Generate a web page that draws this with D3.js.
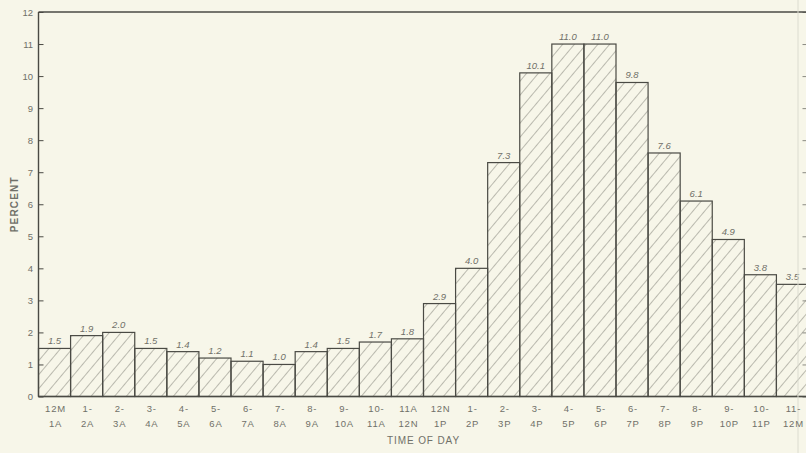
<!DOCTYPE html>
<html>
<head>
<meta charset="utf-8">
<script src="https://cdn.jsdelivr.net/npm/d3@7"></script>
<style>
  html, body { margin: 0; padding: 0; background: #f7f6e9; }
  svg { display: block; }
  text { font-family: "Liberation Sans", "DejaVu Sans", sans-serif; fill: #707068; }
</style>
</head>
<body>
<svg id="chart" width="806" height="453"></svg>
<script>
// Hourly share of traffic, by time of day
const hourStart = ["12M","1-","2-","3-","4-","5-","6-","7-","8-","9-","10-","11A",
                   "12N","1-","2-","3-","4-","5-","6-","7-","8-","9-","10-","11-"];
const hourEnd   = ["1A","2A","3A","4A","5A","6A","7A","8A","9A","10A","11A","12N",
                   "1P","2P","3P","4P","5P","6P","7P","8P","9P","10P","11P","12M"];
const percent   = [1.5,1.9,2.0,1.5,1.4,1.2,1.1,1.0,1.4,1.5,1.7,1.8,
                   2.9,4.0,7.3,10.1,11.0,11.0,9.8,7.6,6.1,4.9,3.8,3.5];
const yTicks    = [0,1,2,3,4,5,6,7,8,9,10,11,12];

const svg = d3.select("#chart");
const plotL = 38.5, plotR = 808.5, plotT = 12, plotB = 396.5;
const ink = "#4a4a44";

const x = d3.scaleBand().domain(d3.range(percent.length)).range([plotL, plotR]).padding(0);
const y = d3.scaleLinear().domain([0, 12]).range([plotB, plotT]);

// diagonal hatching fill
const defs = svg.append("defs");
const pat = defs.append("pattern")
  .attr("id", "hatch").attr("patternUnits", "userSpaceOnUse")
  .attr("width", 9).attr("height", 9)
  .attr("patternTransform", "rotate(40)");
pat.append("line").attr("x1", 0).attr("y1", 0).attr("x2", 0).attr("y2", 9)
  .attr("stroke", "#6e6e66").attr("stroke-width", 0.9);

// bars
svg.append("g").selectAll("rect").data(percent).join("rect")
  .attr("x", (d, i) => x(i))
  .attr("y", d => y(d))
  .attr("width", x.bandwidth())
  .attr("height", d => y(0) - y(d))
  .attr("fill", "url(#hatch)")
  .attr("stroke", ink).attr("stroke-width", 1.2);

// value labels
svg.append("g").selectAll("text").data(percent).join("text")
  .attr("x", (d, i) => x(i) + x.bandwidth() / 2)
  .attr("y", d => y(d) - 4)
  .attr("text-anchor", "middle")
  .attr("font-size", 9.5).attr("font-style", "italic")
  .text(d => d.toFixed(1));

// left axis, ticks pointing inward
const yAxisL = svg.append("g").attr("transform", `translate(${plotL},0)`)
  .call(d3.axisRight(y).tickValues(yTicks).tickSize(5).tickFormat(""));
yAxisL.select(".domain").remove();
yAxisL.selectAll("line").attr("stroke", ink);

// right axis, ticks pointing inward
const yAxisR = svg.append("g").attr("transform", `translate(${plotR},0)`)
  .call(d3.axisLeft(y).tickValues(yTicks).tickSize(6).tickFormat(""));
yAxisR.select(".domain").remove();
yAxisR.selectAll("line").attr("stroke", "#8a8a82");

// tick labels
svg.append("g").selectAll("text").data(yTicks).join("text")
  .attr("x", 33).attr("y", d => y(d) + 3.5)
  .attr("text-anchor", "end").attr("font-size", 9.5)
  .text(d => d);

// frame
svg.append("line").attr("x1", plotL).attr("x2", plotL).attr("y1", plotT).attr("y2", plotB)
  .attr("stroke", ink).attr("stroke-width", 1.4);
svg.append("line").attr("x1", plotL).attr("x2", plotR).attr("y1", plotT).attr("y2", plotT)
  .attr("stroke", ink).attr("stroke-width", 1.4);
svg.append("line").attr("x1", plotL).attr("x2", plotR).attr("y1", plotB).attr("y2", plotB)
  .attr("stroke", ink).attr("stroke-width", 1.6);
// faint page edge line
svg.append("line").attr("x1", 798).attr("x2", 798).attr("y1", 0).attr("y2", 453)
  .attr("stroke", "#dcdcd0").attr("stroke-width", 1);

// hour labels
const xl = svg.append("g").attr("font-size", 9.5);
xl.selectAll("text.a").data(hourStart).join("text").attr("class", "a")
  .attr("x", (d, i) => x(i) + x.bandwidth() / 2 + 1).attr("y", 412)
  .attr("text-anchor", "middle").attr("letter-spacing", 0.8).text(d => d);
xl.selectAll("text.b").data(hourEnd).join("text").attr("class", "b")
  .attr("x", (d, i) => x(i) + x.bandwidth() / 2 + 1).attr("y", 427)
  .attr("text-anchor", "middle").attr("letter-spacing", 0.8).text(d => d);

// axis titles
svg.append("text").attr("x", (plotL + plotR) / 2).attr("y", 444)
  .attr("text-anchor", "middle").attr("font-size", 10).attr("letter-spacing", 0.9)
  .text("TIME OF DAY");
svg.append("text").attr("transform", `translate(18,${(plotT + plotB) / 2}) rotate(-90)`)
  .attr("text-anchor", "middle").attr("font-size", 10).attr("letter-spacing", 1.2)
  .attr("font-weight", "bold")
  .text("PERCENT");
</script>
</body>
</html>
